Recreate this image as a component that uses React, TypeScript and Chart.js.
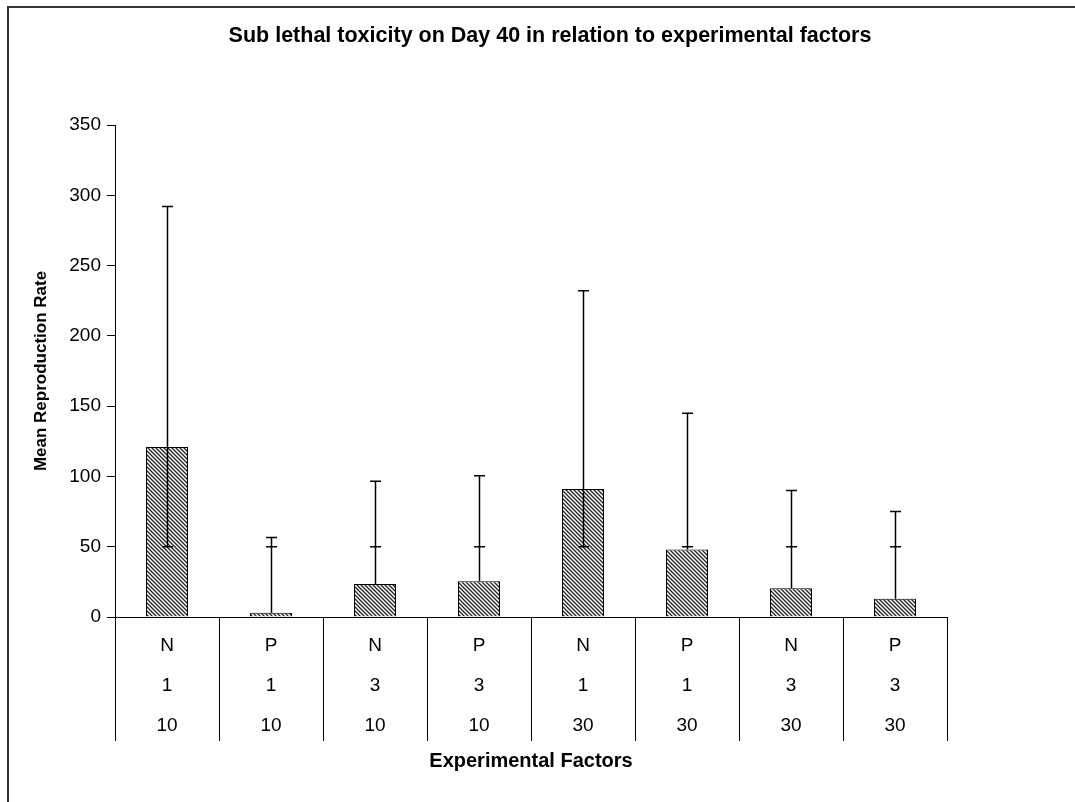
import React, { useEffect, useRef } from 'react';
import { Chart, registerables } from 'chart.js';

Chart.register(...registerables);

// ---- data ----
const factorType = ['N', 'P', 'N', 'P', 'N', 'P', 'N', 'P'];
const factorLevel = ['1', '1', '3', '3', '1', '1', '3', '3'];
const factorDose = ['10', '10', '10', '10', '30', '30', '30', '30'];
const meanRate = [121, 3, 23.5, 25.5, 91, 48, 20.5, 13];
const errUpper = [292, 56.5, 96.5, 100.5, 232, 145, 90, 75];
const errLower = [50, 50, 50, 50, 50, 50, 50, 50];
const yTicks = [0, 50, 100, 150, 200, 250, 300, 350];
const chartTitle = 'Sub lethal toxicity on Day 40 in relation to experimental factors';

const FONT = "'Liberation Sans', Arial, Helvetica, sans-serif";

export default function App() {
  const ref = useRef<HTMLCanvasElement>(null);

  useEffect(() => {
    const canvas = ref.current!;
    const ctx = canvas.getContext('2d')!;

    const tile = document.createElement('canvas');
    tile.width = 4;
    tile.height = 4;
    const g = tile.getContext('2d')!;
    g.fillStyle = '#ffffff';
    g.fillRect(0, 0, 4, 4);
    g.strokeStyle = '#222222';
    g.lineWidth = 1.3;
    g.beginPath();
    g.moveTo(-1, -1);
    g.lineTo(5, 5);
    g.moveTo(-1, 3);
    g.lineTo(1, 5);
    g.moveTo(3, -1);
    g.lineTo(5, 1);
    g.stroke();
    const pattern = ctx.createPattern(tile, 'repeat')!;

    const labels = factorType.map((t, i) => [t, factorLevel[i], factorDose[i]]);

    const framePlugin = {
      id: 'frame',
      beforeDraw(chart: any) {
        const c = chart.ctx;
        c.save();
        c.fillStyle = '#ffffff';
        c.fillRect(0, 0, chart.width, chart.height);
        c.strokeStyle = '#333333';
        c.lineWidth = 2;
        c.strokeRect(8, 7, chart.width + 40, chart.height + 40);
        c.restore();
      },
      afterDraw(chart: any) {
        const c = chart.ctx;
        c.save();
        c.fillStyle = '#000000';
        c.font = `bold 21.5px ${FONT}`;
        c.textAlign = 'center';
        c.textBaseline = 'alphabetic';
        c.fillText(chartTitle, 550, 41.5);
        c.restore();
      },
    };

    const errorBarPlugin = {
      id: 'errorBars',
      afterDatasetsDraw(chart: any) {
        const c = chart.ctx;
        const xs = chart.scales.x;
        const ys = chart.scales.y;
        c.save();
        c.strokeStyle = '#000000';
        c.lineWidth = 1.5;
        const half = 5.5;
        meanRate.forEach((m, i) => {
          const x = Math.round(xs.getPixelForValue(i)) + 0.5;
          const yLow = ys.getPixelForValue(errLower[i]);
          const yHigh = ys.getPixelForValue(errUpper[i]);
          const yStart = ys.getPixelForValue(Math.min(m, errLower[i]));
          c.beginPath();
          c.moveTo(x, yStart);
          c.lineTo(x, yHigh);
          c.moveTo(x - half, yLow);
          c.lineTo(x + half, yLow);
          c.moveTo(x - half, yHigh);
          c.lineTo(x + half, yHigh);
          c.stroke();
        });
        c.restore();
      },
    };

    const chart = new Chart(ctx, {
      type: 'bar',
      data: {
        labels,
        datasets: [
          {
            data: meanRate,
            backgroundColor: pattern as any,
            borderColor: '#000000',
            borderWidth: 1,
            barPercentage: 0.404,
            categoryPercentage: 1,
          },
        ],
      },
      options: {
        responsive: false,
        animation: false,
        devicePixelRatio: 1,
        layout: { padding: { top: 125, left: 0, right: 128, bottom: 0 } },
        plugins: {
          legend: { display: false },
          tooltip: { enabled: false },
          title: { display: false },
        },
        scales: {
          x: {
            grid: {
              display: true,
              drawOnChartArea: false,
              drawTicks: true,
              tickLength: 124,
              color: '#000000',
              lineWidth: 1,
            },
            border: { display: true, color: '#000000', width: 1 },
            ticks: {
              color: '#000000',
              font: { family: FONT, size: 19, lineHeight: 40 / 19 },
              padding: -115,
              maxRotation: 0,
              autoSkip: false,
            },
            title: {
              display: true,
              text: 'Experimental Factors',
              color: '#000000',
              font: { family: FONT, size: 20, weight: 'bold' },
              padding: { top: 0, bottom: 28.5 },
            },
            afterFit(scale: any) {
              scale.height = 185;
            },
          },
          y: {
            min: 0,
            max: 350,
            afterBuildTicks(scale: any) {
              scale.ticks = yTicks.map((v) => ({ value: v }));
            },
            grid: {
              display: true,
              drawOnChartArea: false,
              drawTicks: true,
              tickLength: 8,
              color: '#000000',
              lineWidth: 1,
            },
            border: { display: true, color: '#000000', width: 1 },
            ticks: {
              color: '#000000',
              font: { family: FONT, size: 19 },
              padding: 6,
            },
            title: {
              display: true,
              text: 'Mean Reproduction Rate',
              color: '#000000',
              font: { family: FONT, size: 17, weight: 'bold' },
              padding: { top: 31.4, bottom: 0 },
            },
            afterFit(scale: any) {
              scale.width = 115;
            },
          },
        },
      },
      plugins: [framePlugin, errorBarPlugin],
    });

    return () => chart.destroy();
  }, []);

  return (
    <div style={{ position: 'fixed', left: 0, top: 0, width: 1075, height: 802, background: '#ffffff' }}>
      <canvas
        ref={ref}
        width={1075}
        height={802}
        style={{ display: 'block', width: '1075px', height: '802px' }}
      />
    </div>
  );
}
